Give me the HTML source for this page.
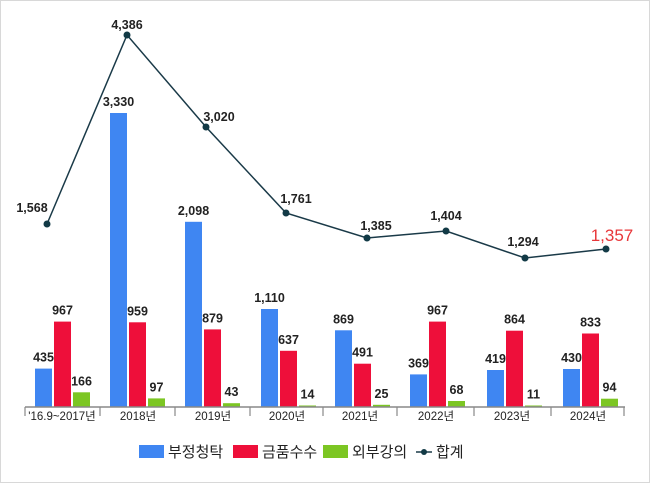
<!DOCTYPE html>
<html><head><meta charset="utf-8"><style>
body{margin:0;background:#fff}
svg{display:block}
text{font-family:"Liberation Sans","Noto Sans CJK KR",sans-serif;fill:#222}
</style></head><body>
<svg width="650" height="483" xmlns="http://www.w3.org/2000/svg">
<rect x="0.5" y="0.5" width="649" height="482" fill="#fff" stroke="#d8d8d8"/>
<g>
<rect x="35" y="368.6" width="17" height="38.4" fill="#3f86f2"/><rect x="54" y="321.6" width="17" height="85.4" fill="#ee0f3a"/><rect x="73" y="392.3" width="17" height="14.7" fill="#7cc623"/>
<rect x="110" y="113" width="17" height="294" fill="#3f86f2"/><rect x="129" y="322.3" width="17" height="84.7" fill="#ee0f3a"/><rect x="148" y="398.4" width="17" height="8.6" fill="#7cc623"/>
<rect x="185" y="221.8" width="17" height="185.2" fill="#3f86f2"/><rect x="204" y="329.4" width="17" height="77.6" fill="#ee0f3a"/><rect x="223" y="403.2" width="17" height="3.8" fill="#7cc623"/>
<rect x="261" y="309" width="17" height="98" fill="#3f86f2"/><rect x="280" y="350.8" width="17" height="56.2" fill="#ee0f3a"/><rect x="299" y="405.5" width="17" height="1.5" fill="#7cc623"/>
<rect x="335" y="330.3" width="17" height="76.7" fill="#3f86f2"/><rect x="354" y="363.7" width="17" height="43.3" fill="#ee0f3a"/><rect x="373" y="404.8" width="17" height="2.2" fill="#7cc623"/>
<rect x="410" y="374.4" width="17" height="32.6" fill="#3f86f2"/><rect x="429" y="321.6" width="17" height="85.4" fill="#ee0f3a"/><rect x="448" y="401" width="17" height="6" fill="#7cc623"/>
<rect x="487" y="370" width="17" height="37" fill="#3f86f2"/><rect x="506" y="330.7" width="17" height="76.3" fill="#ee0f3a"/><rect x="525" y="405.5" width="17" height="1.5" fill="#7cc623"/>
<rect x="563" y="369" width="17" height="38" fill="#3f86f2"/><rect x="582" y="333.5" width="17" height="73.5" fill="#ee0f3a"/><rect x="601" y="398.7" width="17" height="8.3" fill="#7cc623"/>
</g>
<g font-size="12.5" font-weight="bold" text-anchor="middle">
<text x="43.5" y="361.6">435</text><text x="62.5" y="314.6">967</text><text x="81.5" y="385.3">166</text>
<text x="118.5" y="106">3,330</text><text x="137.5" y="315.3">959</text><text x="156.5" y="391.4">97</text>
<text x="193.5" y="214.8">2,098</text><text x="212.5" y="322.4">879</text><text x="231.5" y="396.2">43</text>
<text x="269.5" y="302">1,110</text><text x="288.5" y="343.8">637</text><text x="307.5" y="398.5">14</text>
<text x="343.5" y="323.3">869</text><text x="362.5" y="356.7">491</text><text x="381.5" y="397.8">25</text>
<text x="418.5" y="367.4">369</text><text x="437.5" y="314.6">967</text><text x="456.5" y="394">68</text>
<text x="495.5" y="363">419</text><text x="514.5" y="323.7">864</text><text x="533.5" y="398.5">11</text>
<text x="571.5" y="362">430</text><text x="590.5" y="326.5">833</text><text x="609.5" y="391.7">94</text>
</g>
<line x1="25" y1="407" x2="625" y2="407" stroke="#888" stroke-width="1.5"/>
<g stroke="#888" stroke-width="1.2">
<line x1="25" y1="407" x2="25" y2="416"/><line x1="100" y1="407" x2="100" y2="416"/><line x1="175" y1="407" x2="175" y2="416"/><line x1="250" y1="407" x2="250" y2="416"/><line x1="323" y1="407" x2="323" y2="416"/><line x1="397" y1="407" x2="397" y2="416"/><line x1="474" y1="407" x2="474" y2="416"/><line x1="551" y1="407" x2="551" y2="416"/><line x1="624" y1="407" x2="624" y2="416"/>
</g>
<g font-size="11.5" text-anchor="middle">
<text x="62" y="420">'16.9~2017년</text><text x="138" y="420">2018년</text><text x="213" y="420">2019년</text><text x="287" y="420">2020년</text><text x="360" y="420">2021년</text><text x="436" y="420">2022년</text><text x="512" y="420">2023년</text><text x="588" y="420">2024년</text>
</g>
<polyline points="47,224 127,35 206,127 286,213 367,238 446,231 525,258 606,249" fill="none" stroke="#1a3a48" stroke-width="1.5"/>
<g fill="#123a46">
<circle cx="47" cy="224" r="3.5"/><circle cx="127" cy="35" r="3.5"/><circle cx="206" cy="127" r="3.5"/><circle cx="286" cy="213" r="3.5"/><circle cx="367" cy="238" r="3.5"/><circle cx="446" cy="231" r="3.5"/><circle cx="525" cy="258" r="3.5"/><circle cx="606" cy="249" r="3.5"/>
</g>
<g font-size="12.5" text-anchor="middle" font-weight="bold">
<text x="32" y="212">1,568</text><text x="127" y="29">4,386</text><text x="219" y="121">3,020</text><text x="296" y="203">1,761</text><text x="376" y="230">1,385</text><text x="446" y="220">1,404</text><text x="523" y="246">1,294</text>
<text x="612" y="241" font-size="17" font-weight="normal" style="fill:#e8373a">1,357</text>
</g>
<g>
<rect x="139" y="445" width="25" height="13" fill="#3f86f2"/><text x="168" y="457" font-size="15">부정청탁</text>
<rect x="233" y="445" width="25" height="13" fill="#ee0f3a"/><text x="262" y="457" font-size="15">금품수수</text>
<rect x="323" y="445" width="25" height="13" fill="#7cc623"/><text x="352" y="457" font-size="15">외부강의</text>
<line x1="416" y1="452" x2="432" y2="452" stroke="#1a3a48" stroke-width="1.5"/><circle cx="424" cy="452" r="3" fill="#123a46"/><text x="436" y="457" font-size="15">합계</text>
</g>
</svg>
</body></html>
